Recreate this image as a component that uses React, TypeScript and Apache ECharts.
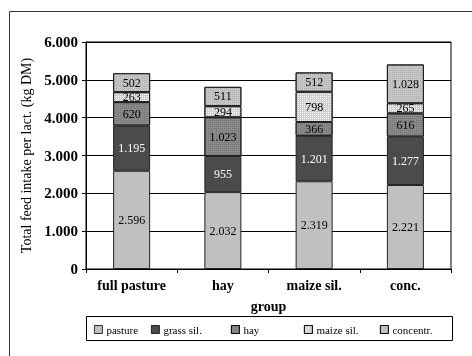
import React, { useEffect, useRef } from "react";
import * as echarts from "echarts";

const categories = ["full pasture", "hay", "maize sil.", "conc."];
const seriesNames = ["pasture", "grass sil.", "hay", "maize sil.", "concentr."];
const pasture = [2596, 2032, 2319, 2221];
const grassSil = [1195, 955, 1201, 1277];
const hay = [620, 1023, 366, 616];
const maizeSil = [263, 294, 798, 265];
const concentr = [502, 511, 512, 1028];
const yTicks = [0, 1000, 2000, 3000, 4000, 5000, 6000];

const FONT = "Liberation Serif";

const fmt = (v: number) => {
  if (v === 0) return "0";
  const s = Math.round(v).toString();
  return s.replace(/\B(?=(\d{3})+(?!\d))/g, ".");
};
const fmtAxis = (v: number) => (v === 0 ? "0" : (v / 1000).toFixed(3));

export default function App() {
  const ref = useRef<HTMLDivElement>(null);
  useEffect(() => {
    if (!ref.current) return;
    const chart = echarts.init(ref.current, undefined, { renderer: "svg" });
    const dot = (c: string) => ({ symbol: "rect", symbolSize: 1, dashArrayX: [1, 1], dashArrayY: [1, 1], color: c, rotation: 0 });
    const styles: any[] = [
      { color: "#c0c0c0", decal: null, label: "#000" },
      { color: "#4b4b4b", decal: null, label: "#fff" },
      { color: "#8a8a8a", decal: dot("rgba(100,100,100,0.6)"), label: "#000" },
      { color: "#cfcfcf", decal: dot("rgba(255,255,255,0.85)"), label: "#000" },
      { color: "#c6c6c6", decal: dot("rgba(160,160,160,0.6)"), label: "#000" },
    ];
    const data = [pasture, grassSil, hay, maizeSil, concentr];
    const legendX = [94, 151, 231, 304, 380];
    chart.setOption({
      animation: false,
      textStyle: { fontFamily: FONT },
      graphic: [
        {
          type: "rect",
          shape: { x: 9.5, y: 11.5, width: 480, height: 360 },
          style: { fill: "none", stroke: "#333", lineWidth: 1 },
          silent: true,
        },
        {
          type: "rect",
          shape: { x: 86.5, y: 316.5, width: 366, height: 24 },
          style: { fill: "none", stroke: "#000", lineWidth: 1 },
          silent: true,
        },
      ],
      legend: seriesNames.map((n, i) => ({
        data: [n],
        left: legendX[i],
        top: 324,
        padding: 0,
        itemWidth: 8,
        itemHeight: 8,
        icon: "rect",
        selectedMode: false,
        itemStyle: { borderColor: "#000", borderWidth: 0.8 },
        textStyle: { fontFamily: FONT, fontSize: 11, color: "#000", padding: [0, 0, 0, -1] },
      })),
      grid: { left: 86, top: 42, right: 21, bottom: 87, show: true, borderColor: "#000", borderWidth: 1 },
      xAxis: {
        type: "category",
        data: categories,
        name: "group",
        nameLocation: "middle",
        nameGap: 30,
        nameTextStyle: { fontFamily: FONT, fontSize: 14, fontWeight: "bold", color: "#000" },
        axisLine: { lineStyle: { color: "#000", width: 1 } },
        axisTick: { show: true, length: 4, lineStyle: { color: "#000" } },
        axisLabel: { fontFamily: FONT, fontSize: 14, fontWeight: "bold", color: "#000", margin: 9 },
      },
      yAxis: {
        type: "value",
        min: yTicks[0],
        max: yTicks[yTicks.length - 1],
        interval: 1000,
        name: "Total feed intake per lact. (kg DM)",
        nameLocation: "middle",
        nameGap: 47,
        nameTextStyle: { fontFamily: FONT, fontSize: 14, color: "#000" },
        axisLine: { show: true, lineStyle: { color: "#000", width: 1 } },
        axisTick: { show: true, length: 4, lineStyle: { color: "#000" } },
        axisLabel: { fontFamily: FONT, fontSize: 15, fontWeight: "bold", color: "#000", margin: 8, formatter: fmtAxis },
        splitLine: { lineStyle: { color: "#000", width: 1 } },
      },
      series: seriesNames.map((n, i) => ({
        name: n,
        type: "bar",
        stack: "total",
        barWidth: 37,
        data: data[i],
        itemStyle: Object.assign(
          { color: styles[i].color, borderColor: "#222", borderWidth: 1 },
          styles[i].decal ? { decal: styles[i].decal } : {}
        ),
        label: {
          show: true,
          position: "inside",
          fontFamily: FONT,
          fontSize: 12,
          color: styles[i].label,
          formatter: (p: any) => fmt(p.value),
        },
      })),
    });
    return () => chart.dispose();
  }, []);
  return <div ref={ref} style={{ position: "fixed", left: 0, top: 0, width: 472, height: 356 }} />;
}
